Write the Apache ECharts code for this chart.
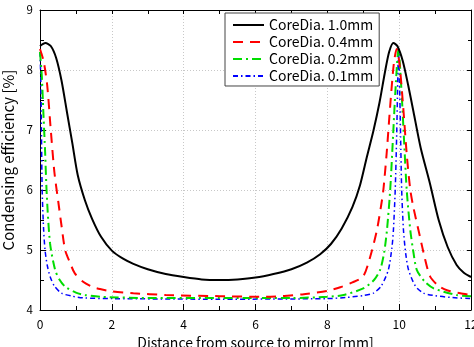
<!DOCTYPE html>
<html>
<head>
<meta charset="utf-8">
<script src="https://cdn.jsdelivr.net/npm/echarts@6/dist/echarts.min.js"></script>
<style>
  html, body { margin: 0; padding: 0; background: #fff; }
  #chart { width: 474px; height: 347px; }
</style>
</head>
<body>
<div id="chart"></div>
<script>
const xTicks = [0, 2, 4, 6, 8, 10, 12];
const yTicks = [4, 5, 6, 7, 8, 9];
const seriesNames = ["CoreDia. 1.0mm", "CoreDia. 0.4mm", "CoreDia. 0.2mm", "CoreDia. 0.1mm"];

// CoreDia. 1.0mm
const dia10X = [0, 0.15, 0.3, 0.45, 0.6, 0.75, 0.9, 1.05, 1.25, 1.45, 1.7, 2.0, 2.3, 2.6, 3.0, 3.5, 4.0, 4.5, 5.0, 5.5, 6.0, 6.5, 7.0, 7.43, 7.8, 8.1, 8.4, 8.7, 8.91, 9.1, 9.28, 9.45, 9.6, 9.72, 9.84, 9.95, 10.1, 10.25, 10.4, 10.6, 10.86, 11.1, 11.35, 11.6, 11.8, 12];
const dia10Y = [8.40, 8.45, 8.40, 8.20, 7.82, 7.30, 6.78, 6.25, 5.83, 5.52, 5.22, 4.99, 4.86, 4.77, 4.68, 4.60, 4.55, 4.51, 4.50, 4.51, 4.54, 4.60, 4.68, 4.79, 4.93, 5.10, 5.36, 5.72, 6.08, 6.55, 6.98, 7.45, 7.95, 8.30, 8.45, 8.40, 8.15, 7.75, 7.30, 6.70, 6.10, 5.50, 5.05, 4.75, 4.62, 4.55];

// CoreDia. 0.4mm
const dia04X = [0, 0.1, 0.2, 0.3, 0.4, 0.51, 0.6, 0.7, 0.84, 0.97, 1.2, 1.44, 1.67, 2.0, 2.6, 3.5, 5.0, 6.3, 7.3, 8.0, 8.36, 8.7, 9.0, 9.2, 9.38, 9.5, 9.56, 9.65, 9.75, 9.85, 9.93, 10.01, 10.11, 10.21, 10.31, 10.4, 10.58, 10.7, 10.86, 11.1, 11.33, 11.7, 12];
const dia04Y = [8.35, 8.15, 7.75, 7.00, 6.30, 5.80, 5.40, 5.00, 4.78, 4.61, 4.47, 4.39, 4.35, 4.31, 4.28, 4.25, 4.23, 4.22, 4.26, 4.32, 4.38, 4.46, 4.56, 4.90, 5.33, 5.75, 6.00, 6.60, 7.40, 8.10, 8.35, 8.10, 7.40, 6.60, 6.00, 5.70, 5.22, 4.90, 4.56, 4.40, 4.33, 4.28, 4.25];

// CoreDia. 0.2mm
const dia02X = [0, 0.05, 0.1, 0.14, 0.19, 0.28, 0.42, 0.55, 0.7, 1.0, 1.25, 1.7, 3.0, 5.0, 7.0, 8.0, 8.45, 9.0, 9.3, 9.47, 9.58, 9.66, 9.75, 9.83, 9.9, 9.98, 10.06, 10.13, 10.21, 10.31, 10.4, 10.49, 10.7, 10.96, 11.6, 12];
const dia02Y = [8.30, 7.90, 7.20, 6.67, 5.90, 5.11, 4.67, 4.50, 4.39, 4.29, 4.25, 4.22, 4.20, 4.20, 4.20, 4.22, 4.25, 4.36, 4.50, 4.67, 4.95, 5.33, 6.00, 6.90, 7.70, 8.35, 7.70, 6.90, 6.00, 5.33, 4.95, 4.67, 4.48, 4.36, 4.25, 4.23];

// CoreDia. 0.1mm
const dia01X = [0, 0.02, 0.04, 0.06, 0.1, 0.14, 0.2, 0.28, 0.4, 0.6, 0.9, 1.25, 2.0, 5.0, 8.0, 8.54, 9.0, 9.28, 9.5, 9.7, 9.8, 9.84, 9.89, 9.93, 9.96, 9.98, 10.01, 10.04, 10.07, 10.12, 10.18, 10.26, 10.45, 10.68, 11.0, 11.42, 12];
const dia01Y = [8.30, 7.90, 7.00, 6.00, 5.35, 5.00, 4.75, 4.56, 4.40, 4.28, 4.23, 4.20, 4.19, 4.18, 4.19, 4.21, 4.24, 4.28, 4.40, 4.67, 5.05, 5.33, 6.00, 6.90, 7.80, 8.35, 7.80, 6.90, 6.00, 5.33, 4.95, 4.67, 4.40, 4.28, 4.24, 4.21, 4.19];

const FONT = "'Noto Sans CJK JP', 'DejaVu Sans', sans-serif";

const chart = echarts.init(document.getElementById("chart"), null, { renderer: "canvas" });

const pairs = (xs, ys) => xs.map((x, i) => [x, ys[i]]);

const styles = [
  { color: "#000000", type: "solid", width: 2 },
  { color: "#ff0000", type: [10, 7], width: 2 },
  { color: "#00dd00", type: [9, 4, 2, 4], width: 2 },
  { color: "#0000ff", type: [5, 3, 1.5, 3], width: 1.5 },
];
const datas = [pairs(dia10X, dia10Y), pairs(dia04X, dia04Y), pairs(dia02X, dia02Y), pairs(dia01X, dia01Y)];

const option = {
  animation: false,
  grid: { left: 40, right: 3, top: 10, bottom: 37, outerBoundsMode: "none", containLabel: false },
  legend: {
    orient: "vertical",
    left: 225,
    top: 13,
    padding: [5, 6, 3, 7],
    itemGap: 3,
    itemWidth: 31,
    itemHeight: 14,
    backgroundColor: "#fff",
    borderColor: "#444",
    borderWidth: 1,
    itemStyle: { opacity: 0 },
    lineStyle: { opacity: 1 },
    textStyle: { fontFamily: FONT, fontSize: 14, color: "#000" },
    data: seriesNames,
  },
  xAxis: [
    {
      type: "value",
      min: 0,
      max: 12,
      interval: 2,
      name: "Distance from source to mirror [mm]",
      nameLocation: "middle",
      nameGap: 26,
      nameTextStyle: { fontFamily: FONT, fontSize: 14, color: "#000" },
      axisLine: { lineStyle: { color: "#000", width: 1 } },
      axisTick: { inside: true, length: 6, lineStyle: { color: "#000" } },
      minorTick: { show: true, splitNumber: 2, length: 4, lineStyle: { color: "#000" } },
      axisLabel: {
        fontFamily: FONT, fontSize: 12, color: "#000", margin: 8,
        formatter: (v) => (xTicks.includes(v) ? String(v) : ""),
      },
      splitLine: { show: true, lineStyle: { color: "#c8c8c8", type: [1, 2], width: 1 } },
    },
    {
      type: "value",
      position: "top",
      min: 0,
      max: 12,
      interval: 1,
      axisLine: { show: true, onZero: false, lineStyle: { color: "#000", width: 1 } },
      axisTick: { show: true, inside: true, length: 4, lineStyle: { color: "#000" } },
      axisLabel: { show: false },
      splitLine: { show: false },
    },
  ],
  yAxis: [
    {
      type: "value",
      min: 4,
      max: 9,
      interval: 1,
      name: "Condensing efficiency [%]",
      nameLocation: "middle",
      nameGap: 19,
      nameTextStyle: { fontFamily: FONT, fontSize: 15, color: "#000" },
      axisLine: { show: true, lineStyle: { color: "#000", width: 1 } },
      axisTick: { show: true, inside: true, length: 6, lineStyle: { color: "#000" } },
      minorTick: { show: true, splitNumber: 2, length: 4, lineStyle: { color: "#000" } },
      axisLabel: {
        fontFamily: FONT, fontSize: 11.5, color: "#000", margin: 7,
        formatter: (v) => (yTicks.includes(v) ? String(v) : ""),
      },
      splitLine: { show: true, lineStyle: { color: "#c8c8c8", type: [1, 2], width: 1 } },
    },
    {
      type: "value",
      position: "right",
      min: 4,
      max: 9,
      interval: 1,
      axisLine: { show: true, onZero: false, lineStyle: { color: "#000", width: 1 } },
      axisTick: { show: true, inside: true, length: 4, lineStyle: { color: "#000" } },
      minorTick: { show: true, splitNumber: 2, length: 3, lineStyle: { color: "#000" } },
      axisLabel: { show: false },
      splitLine: { show: false },
    },
  ],
  series: seriesNames.map((name, i) => ({
    name,
    type: "line",
    data: datas[i],
    showSymbol: false,
    symbol: "none",
    smooth: 0.25,
    clip: true,
    color: styles[i].color,
    lineStyle: { color: styles[i].color, type: styles[i].type, width: styles[i].width },
    z: 10 - i,
  })),
};

chart.setOption(option);
</script>
</body>
</html>
